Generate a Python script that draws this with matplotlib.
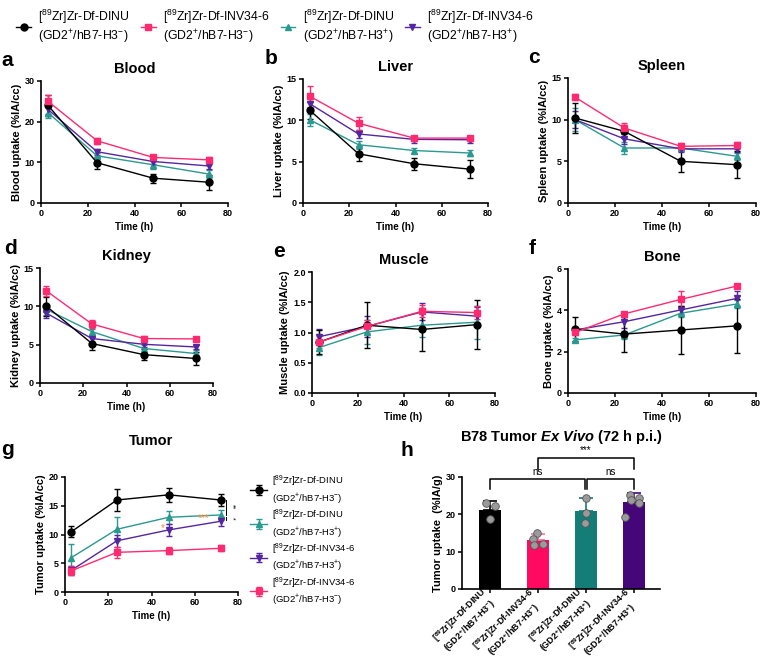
import matplotlib
matplotlib.use("Agg")
import matplotlib.pyplot as plt
from matplotlib.lines import Line2D
import numpy as np

plt.rcParams['font.family'] = ['Liberation Sans', 'DejaVu Sans']
plt.rcParams['mathtext.fontset'] = 'custom'
plt.rcParams['mathtext.rm'] = 'Liberation Sans'
plt.rcParams['mathtext.it'] = 'Liberation Sans:italic'
plt.rcParams['mathtext.bf'] = 'Liberation Sans:bold'
plt.rcParams['mathtext.bfit'] = 'Liberation Sans:italic:bold'
plt.rcParams['mathtext.default'] = 'regular'

W, H = 762, 657

times = [3, 24, 48, 72]

# mean, error per group: DINU(-) black, INV34-6(-) pink, DINU(+) teal, INV34-6(+) purple
blood_dinu_neg = [24.0, 9.9, 6.1, 5.1]
blood_dinu_neg_err = [2.5, 1.5, 1.1, 1.8]
blood_inv_neg = [25.0, 15.3, 11.2, 10.6]
blood_inv_neg_err = [1.5, 0.8, 0.6, 0.6]
blood_dinu_pos = [22.2, 11.6, 9.4, 7.1]
blood_dinu_pos_err = [1.3, 0.8, 1.0, 1.0]
blood_inv_pos = [23.0, 12.6, 10.2, 9.1]
blood_inv_pos_err = [1.0, 0.8, 0.7, 0.7]

liver_dinu_neg = [11.2, 5.95, 4.75, 4.1]
liver_dinu_neg_err = [1.0, 0.9, 0.7, 1.1]
liver_inv_neg = [12.9, 9.65, 7.85, 7.85]
liver_inv_neg_err = [1.3, 0.8, 0.3, 0.3]
liver_dinu_pos = [10.05, 7.05, 6.35, 6.05]
liver_dinu_pos_err = [0.7, 0.5, 0.3, 0.4]
liver_inv_pos = [12.0, 8.35, 7.7, 7.65]
liver_inv_pos_err = [0.6, 0.5, 0.4, 0.4]

spleen_dinu_neg = [10.2, 8.6, 5.0, 4.6]
spleen_dinu_neg_err = [1.8, 0.8, 1.3, 1.6]
spleen_inv_neg = [12.7, 9.0, 6.8, 6.9]
spleen_inv_neg_err = [0.4, 0.6, 0.4, 0.4]
spleen_dinu_pos = [10.0, 6.6, 6.6, 5.6]
spleen_dinu_pos_err = [1.4, 0.7, 0.4, 0.4]
spleen_inv_pos = [10.0, 7.7, 6.5, 6.5]
spleen_inv_pos_err = [1.0, 0.6, 0.4, 0.4]

kidney_dinu_neg = [10.0, 5.15, 3.7, 3.2]
kidney_dinu_neg_err = [1.2, 0.9, 0.7, 0.9]
kidney_inv_neg = [12.0, 7.7, 5.8, 5.75]
kidney_inv_neg_err = [0.7, 0.5, 0.3, 0.3]
kidney_dinu_pos = [9.6, 6.7, 4.5, 3.85]
kidney_dinu_pos_err = [0.7, 0.4, 0.4, 0.4]
kidney_inv_pos = [9.1, 5.8, 5.05, 4.7]
kidney_inv_pos_err = [0.6, 0.4, 0.3, 0.3]

muscle_dinu_neg = [0.84, 1.12, 1.05, 1.13]
muscle_dinu_neg_err = [0.2, 0.38, 0.36, 0.41]
muscle_inv_neg = [0.84, 1.10, 1.35, 1.33]
muscle_inv_neg_err = [0.1, 0.1, 0.1, 0.1]
muscle_dinu_pos = [0.75, 1.01, 1.12, 1.17]
muscle_dinu_pos_err = [0.12, 0.2, 0.2, 0.27]
muscle_inv_pos = [0.93, 1.10, 1.34, 1.27]
muscle_inv_pos_err = [0.13, 0.18, 0.14, 0.15]

bone_dinu_neg = [3.1, 2.85, 3.05, 3.25]
bone_dinu_neg_err = [0.57, 0.85, 1.15, 1.3]
bone_inv_neg = [2.93, 3.83, 4.53, 5.18]
bone_inv_neg_err = [0.1, 0.1, 0.4, 0.1]
bone_dinu_pos = [2.57, 2.81, 3.86, 4.31]
bone_dinu_pos_err = [0.1, 0.2, 0.2, 0.2]
bone_inv_pos = [3.05, 3.45, 4.02, 4.58]
bone_inv_pos_err = [0.1, 0.3, 0.2, 0.35]

tumor_dinu_neg = [10.5, 16.0, 16.9, 16.0]
tumor_dinu_neg_err = [0.9, 1.9, 1.2, 1.0]
tumor_inv_neg = [3.7, 6.9, 7.2, 7.6]
tumor_inv_neg_err = [0.8, 0.9, 0.6, 0.5]
tumor_dinu_pos = [6.0, 10.9, 13.0, 13.4]
tumor_dinu_pos_err = [2.3, 2.1, 1.1, 0.8]
tumor_inv_pos = [3.8, 8.9, 10.8, 12.3]
tumor_inv_pos_err = [0.8, 1.0, 1.0, 0.8]

# ex vivo bars
bar_means = [21.2, 13.2, 20.8, 23.2]
bar_errs = [2.4, 1.5, 3.5, 2.5]
bar_points = [
    [23.0, 22.1, 18.8],
    [14.9, 13.4, 11.8, 12.1],
    [24.5, 20.3, 17.6],
    [25.2, 24.5, 23.9, 23.0, 19.2],
]
bar_jitter = [
    [-0.25, 0.3, 0.0],
    [-0.05, -0.3, -0.25, 0.3],
    [0.0, 0.0, -0.05],
    [-0.25, 0.3, -0.2, 0.3, -0.55],
]
bar_labels = [
    '[$^{89}$Zr]Zr-Df-DINU\n(GD2$^{+}$/hB7-H3$^{-}$)',
    '[$^{89}$Zr]Zr-Df-INV34-6\n(GD2$^{+}$/hB7-H3$^{-}$)',
    '[$^{89}$Zr]Zr-Df-DINU\n(GD2$^{+}$/hB7-H3$^{+}$)',
    '[$^{89}$Zr]Zr-Df-INV34-6\n(GD2$^{+}$/hB7-H3$^{+}$)',
]

c_black = '#000000'
c_pink = '#ff2a70'
c_teal = '#2a9990'
c_purple = '#5526a0'
bar_colors = ['#000000', '#ff0a60', '#157d78', '#45067a']
err_colors = ['#000000', '#ff6f9a', '#157d78', '#45067a']

lab_dinu_neg = '[$^{89}$Zr]Zr-Df-DINU\n(GD2$^{+}$/hB7-H3$^{-}$)'
lab_inv_neg = '[$^{89}$Zr]Zr-Df-INV34-6\n(GD2$^{+}$/hB7-H3$^{-}$)'
lab_dinu_pos = '[$^{89}$Zr]Zr-Df-DINU\n(GD2$^{+}$/hB7-H3$^{+}$)'
lab_inv_pos = '[$^{89}$Zr]Zr-Df-INV34-6\n(GD2$^{+}$/hB7-H3$^{+}$)'

fig = plt.figure(figsize=(W / 100, H / 100), dpi=100)


def add_ax(left, right, top, bottom):
    return fig.add_axes([left / W, 1 - bottom / H, (right - left) / W, (bottom - top) / H])


def style(ax, fs=6.5):
    for s in ['top', 'right']:
        ax.spines[s].set_visible(False)
    for s in ['left', 'bottom']:
        ax.spines[s].set_linewidth(1.2)
    ax.tick_params(direction='out', length=3, width=1.1, labelsize=fs, pad=1.5)
    for t in ax.get_xticklabels() + ax.get_yticklabels():
        t.set_fontweight('bold')


def series(ax, y, e, color, marker, label=None, ms=5):
    ax.errorbar(times, y, yerr=e, color=color, marker=marker, ms=ms, lw=1.0,
                elinewidth=1.0, capsize=2.5, capthick=1.0, label=label)


def line_panel(ax, data, title, ylabel, ymax, ystep, letter):
    (dn, dne), (inn, ine), (dp, dpe), (ip, ipe) = data
    series(ax, dp, dpe, c_teal, '^')
    series(ax, ip, ipe, c_purple, 'v')
    series(ax, dn, dne, c_black, 'o')
    series(ax, inn, ine, c_pink, 's')
    ax.set_xlim(0, 80)
    ax.set_ylim(0, ymax)
    ax.set_xticks([0, 20, 40, 60, 80])
    ax.set_yticks(np.arange(0, ymax + 0.001, ystep))
    ax.set_title(title, fontsize=10.5, fontweight='bold', pad=6)
    ax.set_ylabel(ylabel, fontsize=8, fontweight='bold', labelpad=2)
    ax.set_xlabel('Time (h)', fontsize=7, fontweight='bold', labelpad=3)
    style(ax)
    ax.text(-0.21, 1.09, letter, transform=ax.transAxes, fontsize=15, fontweight='bold',
            va='bottom', ha='left')


ax_a = add_ax(41, 228, 81, 203)
line_panel(ax_a, [(blood_dinu_neg, blood_dinu_neg_err), (blood_inv_neg, blood_inv_neg_err),
                  (blood_dinu_pos, blood_dinu_pos_err), (blood_inv_pos, blood_inv_pos_err)],
           'Blood', 'Blood uptake (%IA/cc)', 30, 10, 'a')
ax_b = add_ax(303, 488, 79, 203)
line_panel(ax_b, [(liver_dinu_neg, liver_dinu_neg_err), (liver_inv_neg, liver_inv_neg_err),
                  (liver_dinu_pos, liver_dinu_pos_err), (liver_inv_pos, liver_inv_pos_err)],
           'Liver', 'Liver uptake (%IA/cc)', 15, 5, 'b')
ax_c = add_ax(568, 756, 78, 203)
line_panel(ax_c, [(spleen_dinu_neg, spleen_dinu_neg_err), (spleen_inv_neg, spleen_inv_neg_err),
                  (spleen_dinu_pos, spleen_dinu_pos_err), (spleen_inv_pos, spleen_inv_pos_err)],
           'Spleen', 'Spleen uptake (%IA/cc)', 15, 5, 'c')
ax_d = add_ax(40, 213, 268, 383)
line_panel(ax_d, [(kidney_dinu_neg, kidney_dinu_neg_err), (kidney_inv_neg, kidney_inv_neg_err),
                  (kidney_dinu_pos, kidney_dinu_pos_err), (kidney_inv_pos, kidney_inv_pos_err)],
           'Kidney', 'Kidney uptake (%IA/cc)', 15, 5, 'd')
ax_e = add_ax(312, 495, 272, 393)
line_panel(ax_e, [(muscle_dinu_neg, muscle_dinu_neg_err), (muscle_inv_neg, muscle_inv_neg_err),
                  (muscle_dinu_pos, muscle_dinu_pos_err), (muscle_inv_pos, muscle_inv_pos_err)],
           'Muscle', 'Muscle uptake (%IA/cc)', 2.0, 0.5, 'e')
ax_e.yaxis.set_major_formatter(matplotlib.ticker.FormatStrFormatter('%.1f'))
ax_f = add_ax(568, 756, 269, 393)
line_panel(ax_f, [(bone_dinu_neg, bone_dinu_neg_err), (bone_inv_neg, bone_inv_neg_err),
                  (bone_dinu_pos, bone_dinu_pos_err), (bone_inv_pos, bone_inv_pos_err)],
           'Bone', 'Bone uptake (%IA/cc)', 6, 2, 'f')

# tumor panel
ax_g = add_ax(65, 238, 477, 592)
series(ax_g, tumor_dinu_neg, tumor_dinu_neg_err, c_black, 'o', lab_dinu_neg)
series(ax_g, tumor_dinu_pos, tumor_dinu_pos_err, c_teal, '^', lab_dinu_pos)
series(ax_g, tumor_inv_pos, tumor_inv_pos_err, c_purple, 'v', lab_inv_pos)
series(ax_g, tumor_inv_neg, tumor_inv_neg_err, c_pink, 's', lab_inv_neg)
ax_g.set_xlim(0, 80)
ax_g.set_ylim(0, 20)
ax_g.set_xticks([0, 20, 40, 60, 80])
ax_g.set_yticks([0, 5, 10, 15, 20])
ax_g.set_title('Tumor', fontsize=10.5, fontweight='bold', pad=23)
ax_g.set_ylabel('Tumor uptake (%IA/cc)', fontsize=8, fontweight='bold', labelpad=2)
ax_g.set_xlabel('Time (h)', fontsize=7, fontweight='bold', labelpad=3)
style(ax_g)
ax_g.text(-0.37, 1.16, 'g', transform=ax_g.transAxes, fontsize=15, fontweight='bold', va='bottom')
ax_g.plot([74.5, 74.5], [tumor_dinu_neg[3], tumor_dinu_pos[3]], color='k', lw=0.7, clip_on=False)
ax_g.plot([74.5, 74.5], [tumor_dinu_pos[3] - 0.3, tumor_inv_pos[3] + 0.2], color='k', lw=0.7, clip_on=False)
ax_g.text(75.5, 14.8, '**', fontsize=5, rotation=-90, va='center', clip_on=False)
ax_g.text(75.5, 12.9, '*', fontsize=5, rotation=-90, va='center', clip_on=False)
ax_g.text(45, 11.2, '*', fontsize=7, color='#f08a40', ha='center', va='center')
ax_g.text(64, 12.9, '***', fontsize=7, color='#f08a40', ha='center', va='center')
ax_g.legend(loc='upper left', bbox_to_anchor=(1.05, 1.06), frameon=False, fontsize=6.8,
            labelspacing=0.2, handlelength=1.8, handletextpad=0.5, borderaxespad=0)

# ex vivo bars
ax_h = add_ax(462, 660, 477, 589)
xb = np.arange(len(bar_means))
ax_h.bar(xb, bar_means, width=0.46, color=bar_colors, zorder=1)
for i in range(len(xb)):
    ax_h.errorbar([xb[i]], [bar_means[i]], yerr=[[0], [bar_errs[i]]], color=err_colors[i],
                  lw=0, elinewidth=1.2, capsize=5, capthick=1.2, zorder=2)
    ax_h.scatter(xb[i] + np.array(bar_jitter[i]) * 0.35, bar_points[i], s=30, color='#9a9a9a',
                 edgecolor='#555555', linewidth=0.6, zorder=3)
ax_h.set_xlim(-0.58, 3.54)
ax_h.set_ylim(0, 30)
ax_h.set_yticks([0, 10, 20, 30])
ax_h.set_xticks(xb)
ax_h.set_xticklabels(bar_labels, rotation=45, ha='right', va='center', rotation_mode='anchor',
                     fontsize=4.0, fontweight='bold', linespacing=1.1, multialignment='center')
style(ax_h)
ax_h.tick_params(axis='x', pad=2.0)
ax_h.set_ylabel('Tumor uptake  (%IA/g)', fontsize=8, fontweight='bold', labelpad=2)
ax_h.set_title('B78 Tumor $\\mathbfit{Ex\\ Vivo}$ (72 h p.i.)', fontsize=10.5, fontweight='bold', pad=26)


def bracket(ax, x1, x2, y, h, text):
    ax.plot([x1, x1, x2, x2], [y - h, y, y, y - h], color='k', lw=1.1, clip_on=False)
    ax.text((x1 + x2) / 2, y + 0.6, text, ha='center', va='bottom', fontsize=7, clip_on=False)


bracket(ax_h, 0, 1.97, 29.5, 2.8, 'ns')
bracket(ax_h, 2.03, 3, 29.5, 2.8, 'ns')
bracket(ax_h, 1, 3, 35.2, 3.0, '***')
ax_h.text(-0.31, 1.15, 'h', transform=ax_h.transAxes, fontsize=15, fontweight='bold', va='bottom')

# top legend
handles = [
    Line2D([], [], color=c_black, marker='o', ms=5, lw=1),
    Line2D([], [], color=c_pink, marker='s', ms=5, lw=1),
    Line2D([], [], color=c_teal, marker='^', ms=5, lw=1),
    Line2D([], [], color=c_purple, marker='v', ms=5, lw=1),
]
fig.legend(handles, [lab_dinu_neg, lab_inv_neg, lab_dinu_pos, lab_inv_pos], loc='upper left',
           bbox_to_anchor=(0.012, 1.0), ncol=4, frameon=False, fontsize=8.8, handlelength=1.2,
           handletextpad=0.6, columnspacing=0.9, borderaxespad=0.2)

fig.savefig('out.png', dpi=100)
